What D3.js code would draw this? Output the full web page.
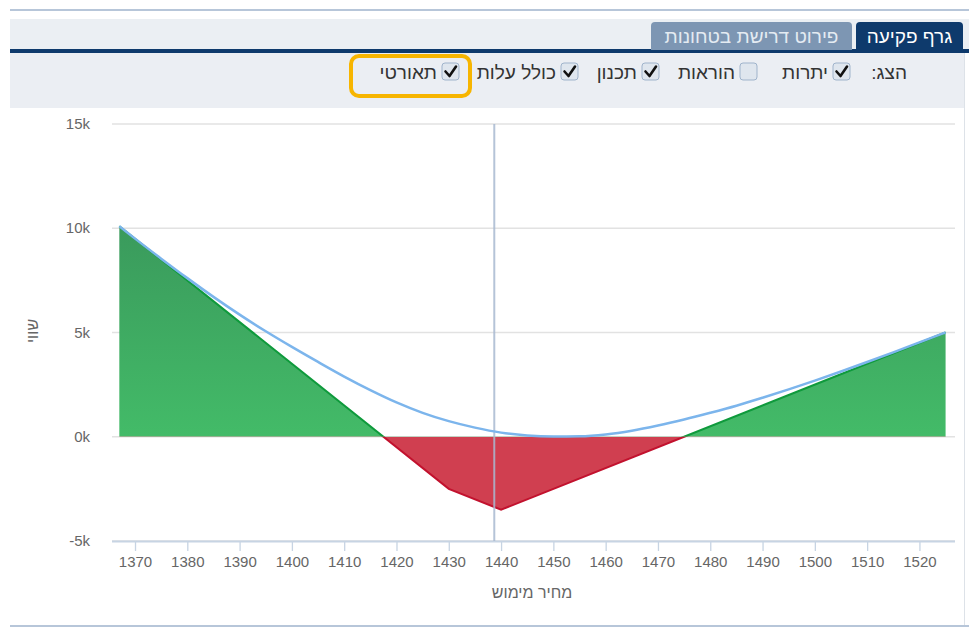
<!DOCTYPE html>
<html><head><meta charset="utf-8">
<script src="https://cdn.jsdelivr.net/npm/d3@7"></script>
<style>
html,body{margin:0;padding:0;background:#fff;}
svg{display:block;font-family:"Liberation Sans",Arial,sans-serif;}
</style></head>
<body>
<svg id="c" width="969" height="632"></svg>
<script>
// ---- data ----
const xTicks = [1370,1380,1390,1400,1410,1420,1430,1440,1450,1460,1470,1480,1490,1500,1510,1520];
const yTicks = [-5000,0,5000,10000,15000];
const yTickLabels = ["-5k","0k","5k","10k","15k"];
// profit at expiry (piecewise)
const expiryStrikes = [1367,1430,1440,1475,1525];
const expiryValues  = [10100,-2500,-3500,0,5000];
// theoretical value curve
const theoStrikes = [1367,1370,1375,1380,1385,1390,1395,1400,1405,1410,1415,1420,1425,1430,1435,1440,1445,1450,1455,1460,1465,1470,1475,1480,1485,1490,1495,1500,1505,1510,1515,1520,1525];
const theoValues  = [10100,9503,8543,7608,6708,5858,5058,4308,3588,2888,2238,1648,1148,748,438,198,58,8,20,110,290,540,830,1150,1490,1870,2270,2690,3130,3585,4050,4525,5000];
const currentPrice = 1438.7;
const tabs = ["גרף פקיעה","פירוט דרישת בטחונות"];
const showLabel = "הצג:";
const checkLabels = ["יתרות","הוראות","תכנון","כולל עלות","תאורטי"];
const checkStates = [true,false,true,true,true];
const xTitle = "מחיר מימוש";
const yTitle = "שווי";

const svg = d3.select("#c");

// ---- frame / header ----
svg.append("rect").attr("x",10).attr("y",9).attr("width",959).attr("height",2).attr("fill","#b7c6d9");
svg.append("rect").attr("x",10).attr("y",19).attr("width",959).attr("height",31).attr("fill","#ebeff3");
svg.append("rect").attr("x",10).attr("y",49).attr("width",959).attr("height",4).attr("fill","#0e3a6c");
svg.append("rect").attr("x",10).attr("y",53).attr("width",955).attr("height",55).attr("fill","#ebeef3");
svg.append("rect").attr("x",10).attr("y",625).attr("width",959).attr("height",2).attr("fill","#b7c6d9");
svg.append("rect").attr("x",964).attr("y",53).attr("width",1).attr("height",572).attr("fill","#dde2e8");

// tabs
const tabBoxes = [{x:856,w:107,fill:"#0e3a6c",col:"#ffffff"},{x:651,w:201,fill:"#7d96b3",col:"#e4ebf2"}];
tabs.forEach((t,i)=>{
  const b = tabBoxes[i];
  svg.append("path").attr("d",`M${b.x},50 V${26} Q${b.x},22 ${b.x+4},22 H${b.x+b.w-4} Q${b.x+b.w},22 ${b.x+b.w},26 V50 Z`).attr("fill",b.fill);
  svg.append("text").attr("x",b.x+b.w/2).attr("y",43).attr("text-anchor","middle")
    .attr("font-size",19).attr("fill",b.col).text(t);
});

// show controls
svg.append("text").attr("x",907).attr("y",79).attr("text-anchor","start").attr("direction","rtl")
  .attr("font-size",19).attr("fill","#333").text(showLabel);
const boxX = [833,740,642,561,442];
checkLabels.forEach((l,i)=>{
  const bx = boxX[i];
  svg.append("rect").attr("x",bx).attr("y",63).attr("width",17).attr("height",17).attr("rx",3)
    .attr("fill","#dfe6ee").attr("stroke","#9fb3cb").attr("stroke-width",1);
  if(checkStates[i]){
    svg.append("path").attr("d",`M${bx+3.5},${71.5} L${bx+7.5},${76} L${bx+14},${66.5}`)
      .attr("fill","none").attr("stroke","#111").attr("stroke-width",2.6).attr("stroke-linecap","round").attr("stroke-linejoin","round");
  }
  svg.append("text").attr("x",bx-5).attr("y",79).attr("text-anchor","end")
    .attr("font-size",19).attr("fill","#333").text(l);
});
// highlight box
svg.append("rect").attr("x",351).attr("y",56).attr("width",119).attr("height",40).attr("rx",8)
  .attr("fill","none").attr("stroke","#f7b500").attr("stroke-width",4);

// ---- chart ----
const x = d3.scaleLinear().domain([1365.6,1526.8]).range([112,955]);
const y = d3.scaleLinear().domain([-5000,15000]).range([541,124]);

// gridlines
svg.append("g").selectAll("line").data(yTicks).join("line")
  .attr("x1",112).attr("x2",955).attr("y1",d=>y(d)).attr("y2",d=>y(d))
  .attr("stroke","#e2e2e2").attr("stroke-width",1.3);

// y labels
svg.append("g").selectAll("text").data(yTicks).join("text")
  .attr("x",90).attr("y",d=>y(d)+5).attr("text-anchor","end")
  .attr("font-size",15).attr("fill","#666").text((d,i)=>yTickLabels[i]);

// x axis
const xAxisG = svg.append("g").attr("transform",`translate(0,${y(-5000)})`)
  .call(d3.axisBottom(x).tickValues(xTicks).tickSize(10).tickPadding(5).tickFormat(d3.format("d")));
xAxisG.select(".domain").attr("stroke","#c7d4e3").attr("stroke-width",2).attr("d","M112,0.5H955");
xAxisG.selectAll(".tick line").attr("stroke","#c7d4e3").attr("stroke-width",1.3);
xAxisG.selectAll(".tick text").attr("font-size",15).attr("fill","#666").attr("font-family","Liberation Sans, Arial, sans-serif");

// axis titles
svg.append("text").attr("x",532).attr("y",598).attr("text-anchor","middle")
  .attr("font-size",16).attr("fill","#666").text(xTitle);
svg.append("text").attr("transform",`translate(38,${331}) rotate(-90)`).attr("text-anchor","middle")
  .attr("font-size",16).attr("fill","#666").text(yTitle);

// defs
const defs = svg.append("defs");
const zeroY = y(0);
defs.append("clipPath").attr("id","clipPos").append("rect").attr("x",0).attr("y",0).attr("width",969).attr("height",zeroY);
defs.append("clipPath").attr("id","clipNeg").append("rect").attr("x",0).attr("y",zeroY).attr("width",969).attr("height",632-zeroY);
const g1 = defs.append("linearGradient").attr("id","gGreen").attr("gradientUnits","userSpaceOnUse")
  .attr("x1",0).attr("x2",0).attr("y1",y(10100)).attr("y2",zeroY);
g1.append("stop").attr("offset","0").attr("stop-color","#3a9a5c");
g1.append("stop").attr("offset","1").attr("stop-color","#43bb68");

const expiry = expiryStrikes.map((s,i)=>({s,v:expiryValues[i]}));
const theo = theoStrikes.map((s,i)=>({s,v:theoValues[i]}));

const area = d3.area().x(d=>x(d.s)).y0(zeroY).y1(d=>y(d.v));
const line = d3.line().x(d=>x(d.s)).y(d=>y(d.v));

svg.append("path").datum(expiry).attr("d",area).attr("fill","url(#gGreen)").attr("clip-path","url(#clipPos)");
svg.append("path").datum(expiry).attr("d",area).attr("fill","#d03f50").attr("clip-path","url(#clipNeg)");
svg.append("path").datum(expiry).attr("d",line).attr("fill","none").attr("stroke","#0f9a3c").attr("stroke-width",2).attr("clip-path","url(#clipPos)");
svg.append("path").datum(expiry).attr("d",line).attr("fill","none").attr("stroke","#c2122e").attr("stroke-width",2).attr("clip-path","url(#clipNeg)");

// current price line
svg.append("line").attr("x1",x(currentPrice)).attr("x2",x(currentPrice)).attr("y1",y(15000)).attr("y2",y(-5000))
  .attr("stroke","#a9bad2").attr("stroke-width",2).attr("opacity",0.85);

// theoretical curve
svg.append("path").datum(theo).attr("d",line.curve(d3.curveMonotoneX)).attr("fill","none")
  .attr("stroke","#7cb5ec").attr("stroke-width",2.5);
</script>
</body></html>
